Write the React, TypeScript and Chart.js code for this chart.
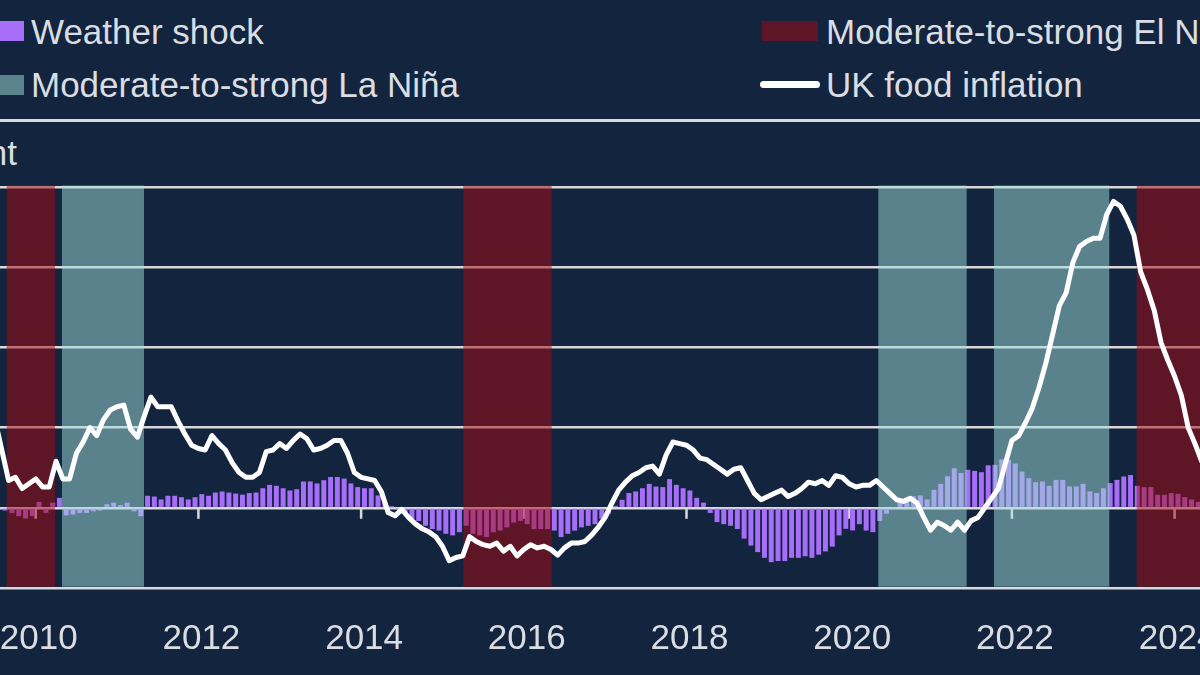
import React, { useEffect, useRef } from "react";
import { Chart, registerables } from "chart.js";

Chart.register(...registerables);

// ---------- data ----------
// UK food inflation, % y/y, monthly, first value = June 2009 (plotted at month end)
const FOOD_START = 2009.5;
const foodInflation = [
  5.5, 3.6, 1.7, 1.9, 1.2, 1.5, 1.8, 1.3, 1.3, 2.9, 1.8, 1.8,
  3.4, 4.1, 5.0, 4.5, 5.5, 6.1, 6.3, 6.4, 4.9, 4.4, 5.7, 6.9,
  6.3, 6.3, 6.3, 5.4, 4.6, 3.9, 3.7, 3.6, 4.5, 4.0, 3.6, 2.8,
  2.2, 1.9, 1.9, 2.2, 3.5, 3.6, 4.0, 3.7, 4.2, 4.6, 4.3, 3.6,
  3.7, 3.9, 4.2, 4.2, 3.4, 2.2, 1.9, 1.8, 1.7, 1.0, -0.3, -0.5,
  -0.1, -0.6, -1.0, -1.3, -1.5, -1.8, -2.4, -3.3, -3.1, -3.0, -1.8, -2.1,
  -2.3, -2.4, -2.2, -2.7, -2.4, -3.0, -2.6, -2.3, -2.5, -2.4, -2.6, -2.95,
  -2.5, -2.2, -2.2, -2.1, -1.7, -1.2, -0.6, 0.3, 1.1, 1.6, 2.0, 2.2,
  2.5, 2.6, 2.1, 3.3, 4.1, 4.0, 3.9, 3.6, 3.1, 3.0, 2.7, 2.4,
  2.1, 2.4, 2.5, 1.7, 0.9, 0.5, 0.7, 0.9, 1.1, 0.7, 0.9, 1.2,
  1.6, 1.5, 1.7, 1.4, 2.0, 1.9, 1.5, 1.3, 1.4, 1.4, 1.7, 1.3,
  0.9, 0.5, 0.4, 0.6, 0.3, -0.6, -1.4, -0.9, -1.1, -1.4, -0.9, -1.4,
  -0.8, -0.6, 0.0, 0.6, 1.2, 2.7, 4.2, 4.5, 5.3, 6.2, 7.5, 9.0,
  10.8, 12.6, 13.4, 15.3, 16.3, 16.6, 16.8, 16.8, 18.3, 19.1, 18.8, 18.0,
  17.0, 14.7, 13.6, 12.3, 10.3, 9.2, 8.2, 7.0, 5.0, 4.0, 2.9, 1.7,
];

// Weather shock contribution, pp, monthly, first value = July 2009 (plotted mid-month)
const SHOCK_START = 2009.5 + 1 / 24;
const weatherShock = [
  -0.1, -0.15, -0.3, -0.5, -0.65, -0.5, 0.35, -0.3, 0.3, 0.6, -0.45, -0.4,
  -0.3, -0.3, -0.2, -0.15, 0.2, 0.3, 0.15, 0.3, -0.2, -0.5, 0.73, 0.68,
  0.5, 0.73, 0.73, 0.64, 0.5, 0.64, 0.83, 0.73, 0.93, 1.0, 0.93, 0.87,
  0.8, 0.9, 0.93, 1.2, 1.41, 1.35, 1.2, 1.06, 1.14, 1.62, 1.62, 1.5,
  1.7, 1.9, 1.9, 1.8, 1.5, 1.27, 1.2, 1.2, 0.75, 0.3, 0.05, -0.1,
  -0.3, -0.66, -0.8, -1.1, -1.3, -1.4, -1.6, -1.7, -1.5, -1.1, -1.6, -1.7,
  -1.8, -1.5, -1.4, -1.2, -0.9, -0.8, -1.0, -1.3, -1.3, -1.3, -1.4, -1.8,
  -1.6, -1.4, -1.2, -1.1, -1.0, -0.66, -0.35, 0.1, 0.48, 0.9, 1.0, 1.2,
  1.47, 1.3, 1.27, 1.77, 1.41, 1.2, 1.06, 0.6, 0.3, -0.3, -0.87, -1.0,
  -1.1, -1.3, -1.9, -2.33, -2.74, -3.1, -3.37, -3.3, -3.3, -3.1, -3.1, -3.0,
  -3.1, -2.9, -2.7, -2.4, -1.7, -1.29, -1.39, -1.0, -1.4, -1.5, -0.8, -0.35,
  -0.1, 0.3, 0.6, 0.7, 0.75, 0.5, 1.1, 1.47, 1.95, 2.45, 2.15, 2.35,
  2.28, 2.2, 2.63, 2.66, 3.0, 2.97, 2.74, 2.24, 1.83, 1.58, 1.62, 1.35,
  1.72, 1.72, 1.31, 1.31, 1.47, 1.0, 0.9, 1.2, 1.52, 1.72, 1.93, 2.02,
  1.35, 1.27, 1.27, 0.79, 0.79, 0.9, 0.85, 0.65, 0.5, 0.35, 0.3,
];

// ENSO episodes (decimal years)
const elNinoStart = [2009.644, 2015.256, 2023.534];
const elNinoEnd = [2010.237, 2016.343, 2024.9];
const laNinaStart = [2010.323, 2020.358, 2021.78];
const laNinaEnd = [2011.331, 2021.444, 2023.197];

const yearTicks = [2010, 2012, 2014, 2016, 2018, 2020, 2022, 2024];
const valueTicks = [-5, 0, 5, 10, 15, 20];

// ---------- style ----------
const BG = "#13243e";
const GRID = "#d9d9db";
const TEXT = "#dadde2";
const PURPLE = "#a66ef9";
const RED_BAND = "rgba(169, 8, 15, 0.5)";
const TEAL_BAND = "rgba(161, 224, 219, 0.5)";
const RED_SWATCH = "#5e1627";
const TEAL_SWATCH = "#5a838e";
const FONT = "'Liberation Sans', Arial, 'DejaVu Sans', sans-serif";

const X_MIN = 2010 - 35.7 / 81.35;
const X_MAX = 2010 + (1200 - 35.7) / 81.35;

const zeroTicksPlugin = {
  id: "zeroTicks",
  beforeDatasetsDraw(chart: any) {
    const { ctx, scales } = chart;
    const x = scales.x;
    const y0 = scales.y.getPixelForValue(0);
    ctx.save();
    ctx.strokeStyle = GRID;
    ctx.lineWidth = 2.5;
    x.ticks.forEach((t: any) => {
      const px = x.getPixelForValue(t.value);
      ctx.beginPath();
      ctx.moveTo(px, y0);
      ctx.lineTo(px, y0 + 11);
      ctx.stroke();
    });
    ctx.restore();
  },
};

const bandsPlugin = {
  id: "ensoBands",
  afterDatasetDraw(chart: any, args: any) {
    if (args.index !== 0) return;
    const { ctx, chartArea, scales } = chart;
    const x = scales.x;
    const y = scales.y;
    const top = y.getPixelForValue(valueTicks[valueTicks.length - 1]) - 1.5;
    const bottom = y.getPixelForValue(valueTicks[0]) - 1.3;
    ctx.save();
    ctx.beginPath();
    ctx.rect(chartArea.left, chartArea.top - 3, chartArea.right - chartArea.left, chartArea.bottom - chartArea.top + 6);
    ctx.clip();
    const draw = (starts: number[], ends: number[], color: string) => {
      starts.forEach((s, k) => {
        const x0 = x.getPixelForValue(s);
        const x1 = x.getPixelForValue(ends[k]);
        ctx.fillStyle = color;
        ctx.fillRect(x0, top, x1 - x0, bottom - top);
      });
    };
    draw(elNinoStart, elNinoEnd, RED_BAND);
    draw(laNinaStart, laNinaEnd, TEAL_BAND);
    ctx.restore();
  },
};

const textStyle: React.CSSProperties = {
  position: "absolute",
  fontFamily: FONT,
  fontSize: 35,
  lineHeight: "35px",
  color: TEXT,
  whiteSpace: "nowrap",
};

export default function App() {
  const ref = useRef<HTMLCanvasElement>(null);

  useEffect(() => {
    const canvas = ref.current;
    if (!canvas) return;
    const chart = new Chart(canvas, {
      data: {
        datasets: [
          {
            type: "bar",
            label: "Weather shock",
            data: weatherShock.map((v, j) => ({ x: SHOCK_START + j / 12, y: v })),
            backgroundColor: PURPLE,
            borderWidth: 0,
            barThickness: 4.3,
            order: 1,
          } as any,
          {
            type: "line",
            label: "UK food inflation",
            data: foodInflation.map((v, i) => ({ x: FOOD_START + i / 12, y: v })),
            borderColor: "#ffffff",
            borderWidth: 5,
            pointRadius: 0,
            tension: 0,
            borderJoinStyle: "round",
            borderCapStyle: "round",
            order: 0,
          } as any,
        ],
      },
      options: {
        animation: false,
        responsive: false,
        maintainAspectRatio: false,
        layout: { padding: { left: 100, right: 100, top: 187, bottom: 0 } },
        plugins: {
          legend: { display: false },
          tooltip: { enabled: false },
        },
        scales: {
          x: {
            type: "linear",
            offset: false,
            min: X_MIN,
            max: X_MAX,
            afterBuildTicks: (s: any) => {
              s.ticks = yearTicks.map((v) => ({ value: v }));
            },
            afterFit: (s: any) => {
              s.height = 87;
            },
            ticks: {
              callback: (v: any) => String(v),
              font: { family: FONT, size: 35 },
              color: TEXT,
              padding: 22,
              labelOffset: 3,
              autoSkip: false,
              maxRotation: 0,
              minRotation: 0,
            },
            grid: { display: false, offset: false },
            border: { display: false },
          },
          y: {
            type: "linear",
            min: valueTicks[0],
            max: valueTicks[valueTicks.length - 1],
            afterBuildTicks: (s: any) => {
              s.ticks = valueTicks.map((v) => ({ value: v }));
            },
            afterFit: (s: any) => {
              s.width = 0;
            },
            ticks: { display: false },
            grid: { color: GRID, lineWidth: 2.5, drawTicks: false },
            border: { display: false },
          },
        },
      } as any,
      plugins: [zeroTicksPlugin, bandsPlugin],
    });
    return () => chart.destroy();
  }, []);

  return (
    <div
      style={{
        position: "fixed",
        left: 0,
        top: 0,
        width: 1200,
        height: 675,
        overflow: "hidden",
        background: BG,
      }}
    >
      {/* legend */}
      <div style={{ position: "absolute", left: -32, top: 21, width: 56, height: 20, background: PURPLE }} />
      <div style={{ ...textStyle, left: 31, top: 13.7 }}>Weather shock</div>
      <div style={{ position: "absolute", left: -32, top: 75, width: 56, height: 20, background: TEAL_SWATCH }} />
      <div style={{ ...textStyle, left: 31, top: 66.9 }}>Moderate-to-strong La Niña</div>
      <div style={{ position: "absolute", left: 762, top: 21, width: 56, height: 20, background: RED_SWATCH }} />
      <div style={{ ...textStyle, left: 826, top: 13.7 }}>Moderate-to-strong El Niño</div>
      <div style={{ position: "absolute", left: 760, top: 81, width: 60, height: 6.5, borderRadius: 3.5, background: "#ffffff" }} />
      <div style={{ ...textStyle, left: 826, top: 66.9 }}>UK food inflation</div>
      {/* separator */}
      <div style={{ position: "absolute", left: 0, top: 119, width: 1200, height: 3, background: GRID }} />
      {/* unit label */}
      <div style={{ ...textStyle, right: 1183, top: 135.4, textAlign: "right" }}>Per cent</div>
      <canvas
        ref={ref}
        width={1400}
        height={675}
        style={{ position: "absolute", left: -100, top: 0, width: 1400, height: 675 }}
      />
    </div>
  );
}
